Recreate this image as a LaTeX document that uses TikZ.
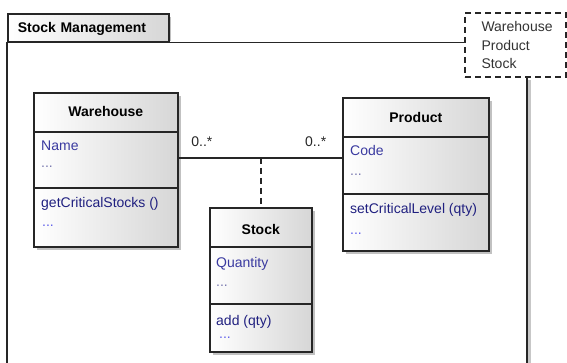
\documentclass[tikz,border=0pt]{standalone}
\usepackage{fontspec}
\setmainfont{Liberation Sans}
\usetikzlibrary{calc,shadows}
\definecolor{attrblue}{RGB}{58,58,160}
\definecolor{opblue}{RGB}{32,32,128}
\definecolor{dotgray}{RGB}{120,120,175}
\definecolor{dotblue}{RGB}{95,95,235}
\begin{document}
\begin{tikzpicture}[
		x=1pt, y=-1pt,
		every node/.style={font=\fontsize{14}{18.5}\selectfont, inner sep=0pt},
		boxline/.style={draw=black!85, line width=1.6pt},
		classbox/.style={boxline, left color=white, middle color=white, right color=black!16, anchor=north west,
				drop shadow={shadow xshift=3pt, shadow yshift=-3pt, fill=black!35, opacity=.7}},
		classtitle/.style={font=\fontsize{14}{18.5}\selectfont\bfseries, anchor=base},
		attr/.style={text=attrblue, anchor=base west},
		oper/.style={text=opblue, anchor=base west},
		attrdots/.style={text=dotgray, anchor=base west},
		operdots/.style={text=dotblue, anchor=base west},
		mult/.style={text=black!85},
		tab/.style={boxline, left color=white, middle color=white, right color=black!16, anchor=north west,
				minimum height=28pt, text width=141pt, inner xsep=10pt, text depth=0pt, align=left,
				font=\fontsize{14}{18.5}\selectfont\bfseries},
		notebox/.style={draw=black!85, line width=1.6pt, dash pattern=on 6pt off 4pt, fill=white,
				minimum width=101pt, minimum height=64pt, text width=68pt, align=left, text=black!80},
	]
	\path[use as bounding box] (0,0) rectangle (567,363);
	\fill[black!25] (168,17) rectangle (171,41);
	\fill[black!22] (528,80) rectangle (531,363);
	\node[tab] (pkg) at (7,13) {Stock Management};
	\node[notebox] (note) at (515.5,45) {Warehouse\\Product\\Stock};
	\draw[boxline] (note.west |- pkg.south) -- (pkg.south west) -- (7,363);
	\draw[boxline] (527,363) -- (527,0 |- note.south);

	\node[classbox, minimum width=144pt, minimum height=154pt] (wh) at (33,92) {};
	\draw[boxline] (wh.west |- 0,132) -- (wh.east |- 0,132);
	\draw[boxline] (wh.west |- 0,188) -- (wh.east |- 0,188);
	\node[classtitle] (whname) at (wh.north |- 0,117) {Warehouse};
	\node[attr] (whattr) at (41,151) {Name};
	\node[attrdots] (whattrmore) at (41,168) {...};
	\node[oper] (whop) at (41,208) {getCriticalStocks ()};
	\node[operdots] (whopmore) at (42,227) {...};

	\node[classbox, minimum width=146pt, minimum height=153pt] (pr) at (342,97) {};
	\draw[boxline] (pr.west |- 0,137) -- (pr.east |- 0,137);
	\draw[boxline] (pr.west |- 0,194) -- (pr.east |- 0,194);
	\node[classtitle] (prname) at (pr.north |- 0,123) {Product};
	\node[attr] (prattr) at (350,156) {Code};
	\node[attrdots] (prattrmore) at (350,176) {...};
	\node[oper] (prop) at (350,214) {setCriticalLevel (qty)};
	\node[operdots] (propmore) at (350,235) {...};

	\node[classbox, minimum width=102pt, minimum height=144pt] (st) at (209,207) {};
	\draw[boxline] (st.west |- 0,247) -- (st.east |- 0,247);
	\draw[boxline] (st.west |- 0,304) -- (st.east |- 0,304);
	\node[classtitle] (stname) at (st.north |- 0,235) {Stock};
	\node[attr] (stattr) at (216,267) {Quantity};
	\node[attrdots] (stattrmore) at (216,286) {...};
	\node[oper] (stop) at (216,325) {add (qty)};
	\node[operdots] (stopmore) at (219,338) {...};

	\coordinate (assoc) at (st.north |- 0,158);
	\draw[boxline] (wh.east |- assoc) -- (pr.west |- assoc)
		node[mult, pos=0, anchor=base west, xshift=12pt, yshift=11pt] {0..*}
		node[mult, pos=1, anchor=base east, xshift=-15pt, yshift=11pt] {0..*};
	\draw[boxline, dash pattern=on 6pt off 4pt] (assoc) -- (st.north);
\end{tikzpicture}
\end{document}
